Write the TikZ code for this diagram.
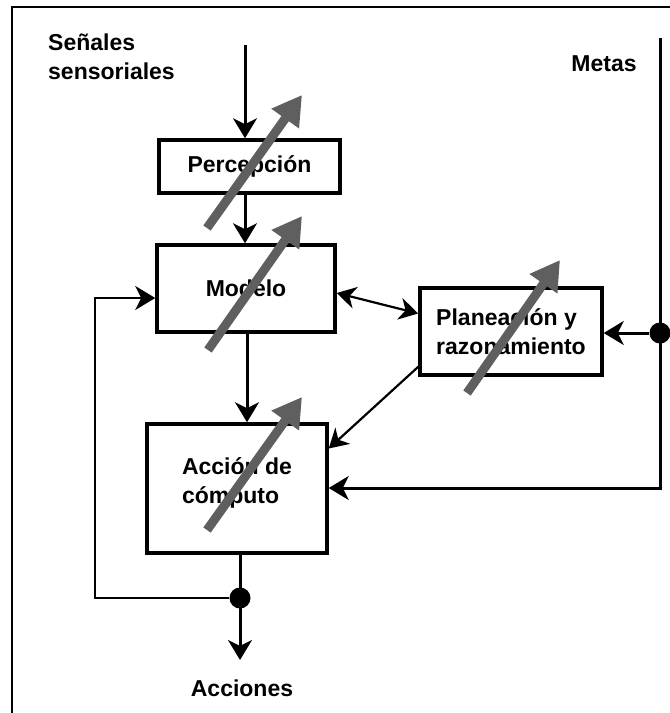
\documentclass[tikz,border=0pt]{standalone}
\usepackage{fontspec}
\setmainfont{Liberation Sans}
\usetikzlibrary{arrows.meta,calc}
\definecolor{garrow}{RGB}{95,95,95}
\newcommand{\dlab}{\fontsize{23}{29}\selectfont\bfseries}
\begin{document}
\begin{tikzpicture}[x=1pt,y=-1pt,
  box/.style={draw, line width=3.5pt, inner sep=0pt, font=\dlab},
  conn/.style={line width=3pt, -{Stealth[length=20pt,width=24pt,inset=6pt]}},
  thinconn/.style={line width=2.2pt, -{Stealth[length=19pt,width=22pt,inset=6pt]}},
  gar/.style={line width=9pt, draw=garrow, -{Triangle[length=29pt,width=32pt]}},
  jdot/.style={circle, fill, inner sep=0pt, minimum size=21pt},
  lbl/.style={font=\dlab, inner sep=0pt}]
\useasboundingbox (0,0) rectangle (670,713);
% frame
\coordinate (fr1) at (12,713);
\coordinate (fr2) at (12,7);
\coordinate (fr3) at (670,7);
\draw[line width=2pt] (fr1) -- (fr2) -- (fr3);
% boxes
\node[box, minimum width=181pt, minimum height=53pt] (perc) at (249.5,166.5) {Percepción};
\node[box, minimum width=178pt, minimum height=87pt] (model) at (246,288.5) {Modelo};
\node[box, minimum width=182pt, minimum height=87pt, align=left] (plan) at (511,331.5) {Planeación y\\razonamiento};
\node[box, minimum width=180pt, minimum height=129pt, align=left, text depth=16pt] (acc) at (237,488.5) {Acción de\\cómputo};
% labels
\node[lbl, align=left, anchor=north west] (sig) at (48,34) {Señales\\sensoriales};
\node[lbl] (metas) at (604,64) {Metas};
\node[lbl] (acciones) at (242,688) {Acciones};
% coordinates
\coordinate (sin) at (245,45);
\coordinate (mx) at (247,0);
\coordinate (mtop) at (660,38);
\coordinate (mbot) at (660,488);
\node[jdot] (pdot) at (660,333) {};
\node[jdot] (adot) at (240,598) {};
\coordinate (aout) at (240,660);
\coordinate (fbl) at (95,598);
\coordinate (ftl) at (95,298);
% connectors
\draw[conn] (sin) -- (sin |- perc.north);
\draw[conn] (perc.south -| sin) -- (model.north -| sin);
\draw[conn] (model.south -| mx) -- (acc.north -| mx);
\draw[thinconn, {Stealth[length=19pt,width=22pt,inset=6pt]}-{Stealth[length=19pt,width=22pt,inset=6pt]}] ([yshift=-4.5pt]model.east) -- ([yshift=18pt]plan.west);
\draw[conn] (mtop) -- (mbot) -- (mbot -| acc.east);
\draw[conn] (pdot) -- (pdot -| plan.east);
\draw[thinconn] ([yshift=10pt]plan.south west) -- ([yshift=40pt]acc.east);
\draw[conn] (acc.south -| adot) -- (aout);
\draw[conn, line width=2.5pt] (adot) -- (fbl) -- (ftl) -- (ftl -| model.west);
% gray arrows
\coordinate (g1a) at (207,228); \coordinate (g1b) at (302,95);
\coordinate (g2a) at (208,350); \coordinate (g2b) at (302,216);
\coordinate (g3a) at (467,393); \coordinate (g3b) at (560,260);
\coordinate (g4a) at (207,530); \coordinate (g4b) at (302,397);
\draw[gar] (g1a) -- (g1b);
\draw[gar] (g2a) -- (g2b);
\draw[gar] (g3a) -- (g3b);
\draw[gar] (g4a) -- (g4b);
\end{tikzpicture}
\end{document}
